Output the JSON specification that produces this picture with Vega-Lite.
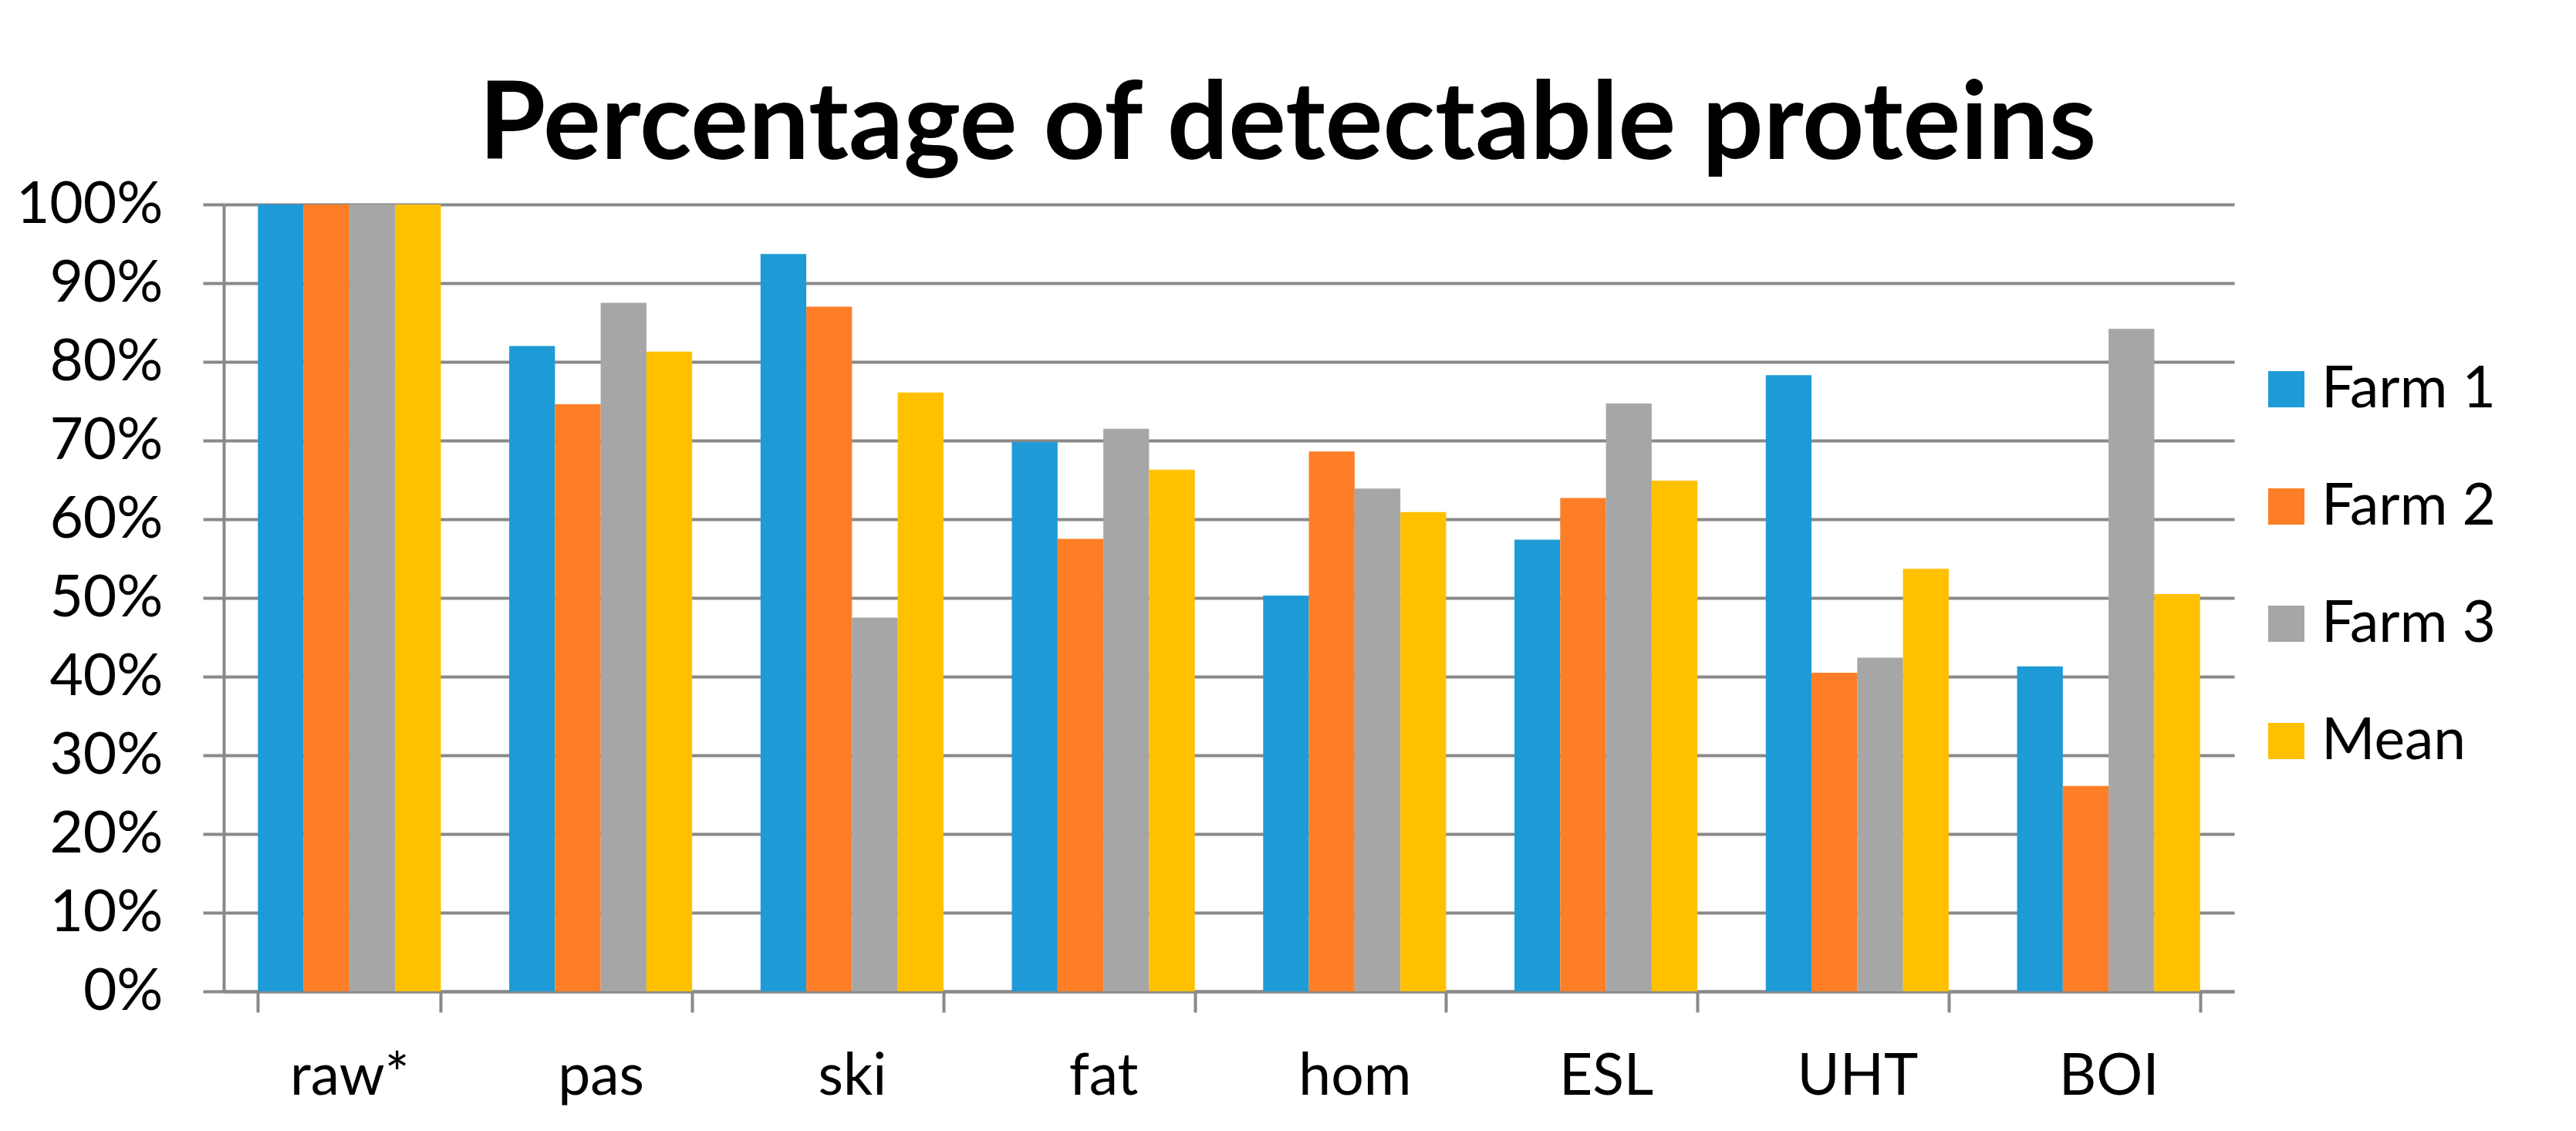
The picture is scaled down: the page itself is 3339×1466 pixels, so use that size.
{
  "$schema": "https://vega.github.io/schema/vega-lite/v6.json",
  "width": 2606,
  "height": 1020,
  "autosize": {"type": "none"},
  "padding": {"left": 290, "top": 265, "right": 443, "bottom": 181},
  "background": "white",
  "title": {
    "text": "Percentage of detectable proteins",
    "font": "Lato",
    "fontSize": 140,
    "fontWeight": "bold",
    "color": "black",
    "anchor": "middle",
    "baseline": "alphabetic",
    "dx": 76,
    "offset": -118
  },
  "data": {
    "values": [
      {"process": "raw*", "series": "Farm 1", "value": 1.0},
      {"process": "raw*", "series": "Farm 2", "value": 1.0},
      {"process": "raw*", "series": "Farm 3", "value": 1.0},
      {"process": "raw*", "series": "Mean", "value": 1.0},
      {"process": "pas", "series": "Farm 1", "value": 0.82},
      {"process": "pas", "series": "Farm 2", "value": 0.746},
      {"process": "pas", "series": "Farm 3", "value": 0.875},
      {"process": "pas", "series": "Mean", "value": 0.813},
      {"process": "ski", "series": "Farm 1", "value": 0.937},
      {"process": "ski", "series": "Farm 2", "value": 0.87},
      {"process": "ski", "series": "Farm 3", "value": 0.475},
      {"process": "ski", "series": "Mean", "value": 0.761},
      {"process": "fat", "series": "Farm 1", "value": 0.698},
      {"process": "fat", "series": "Farm 2", "value": 0.575},
      {"process": "fat", "series": "Farm 3", "value": 0.715},
      {"process": "fat", "series": "Mean", "value": 0.663},
      {"process": "hom", "series": "Farm 1", "value": 0.503},
      {"process": "hom", "series": "Farm 2", "value": 0.686},
      {"process": "hom", "series": "Farm 3", "value": 0.639},
      {"process": "hom", "series": "Mean", "value": 0.609},
      {"process": "ESL", "series": "Farm 1", "value": 0.574},
      {"process": "ESL", "series": "Farm 2", "value": 0.627},
      {"process": "ESL", "series": "Farm 3", "value": 0.747},
      {"process": "ESL", "series": "Mean", "value": 0.649},
      {"process": "UHT", "series": "Farm 1", "value": 0.783},
      {"process": "UHT", "series": "Farm 2", "value": 0.405},
      {"process": "UHT", "series": "Farm 3", "value": 0.424},
      {"process": "UHT", "series": "Mean", "value": 0.537},
      {"process": "BOI", "series": "Farm 1", "value": 0.413},
      {"process": "BOI", "series": "Farm 2", "value": 0.261},
      {"process": "BOI", "series": "Farm 3", "value": 0.842},
      {"process": "BOI", "series": "Mean", "value": 0.505}
    ]
  },
  "mark": {"type": "bar"},
  "encoding": {
    "x": {
      "field": "process",
      "type": "nominal",
      "sort": ["raw*", "pas", "ski", "fat", "hom", "ESL", "UHT", "BOI"],
      "title": null,
      "scale": {"paddingInner": 0.272, "paddingOuter": 0.136},
      "axis": {
        "labelAngle": 0,
        "labelFont": "Lato",
        "labelFontSize": 75,
        "labelColor": "black",
        "labelPadding": 47,
        "tickBand": "extent",
        "ticks": true,
        "tickSize": 27,
        "tickWidth": 4,
        "tickColor": "#898989",
        "domainColor": "#898989",
        "domainWidth": 4,
        "grid": false
      }
    },
    "xOffset": {
      "field": "series",
      "type": "nominal",
      "sort": ["Farm 1", "Farm 2", "Farm 3", "Mean"],
      "scale": {"paddingInner": 0, "paddingOuter": 0}
    },
    "y": {
      "field": "value",
      "type": "quantitative",
      "title": null,
      "scale": {"domain": [0, 1], "nice": false},
      "axis": {
        "values": [0, 0.1, 0.2, 0.3, 0.4, 0.5, 0.6, 0.7, 0.8, 0.9, 1],
        "format": ".0%",
        "labelFont": "Lato",
        "labelFontSize": 75,
        "labelColor": "black",
        "labelPadding": 52,
        "labelLimit": 400,
        "tickSize": 27,
        "tickWidth": 4,
        "tickColor": "#898989",
        "domainColor": "#898989",
        "domainWidth": 4,
        "grid": true,
        "gridColor": "#898989",
        "gridWidth": 4,
        "gridOpacity": 1
      }
    },
    "color": {
      "field": "series",
      "type": "nominal",
      "title": null,
      "scale": {
        "domain": ["Farm 1", "Farm 2", "Farm 3", "Mean"],
        "range": ["#1E9BD7", "#FE7E27", "#A6A6A6", "#FFC000"]
      },
      "legend": {
        "orient": "none",
        "legendX": 2636,
        "legendY": 202,
        "symbolType": "square",
        "symbolSize": 2209,
        "symbolStrokeWidth": 0,
        "symbolOpacity": 1,
        "labelFont": "Lato",
        "labelFontSize": 75,
        "labelColor": "black",
        "labelOffset": 8,
        "rowPadding": 76,
        "labelLimit": 400
      }
    }
  },
  "config": {
    "view": {"stroke": null}
  }
}
